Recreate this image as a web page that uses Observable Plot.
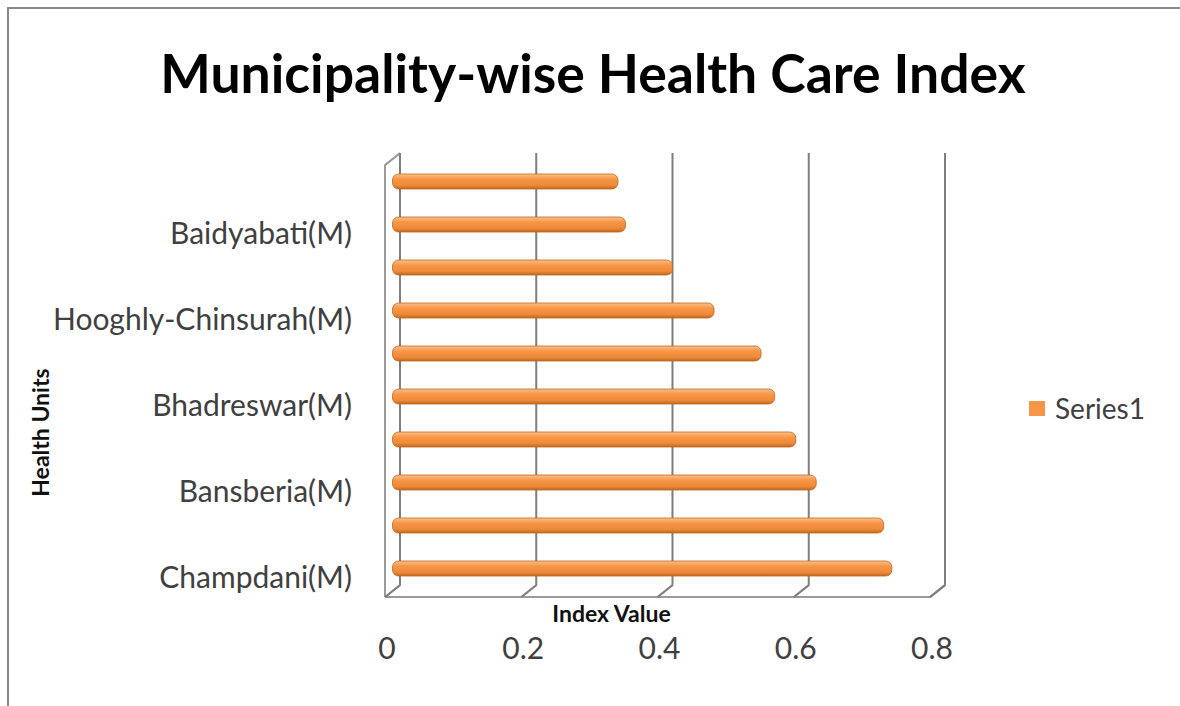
<!DOCTYPE html>
<html><head><meta charset="utf-8">
<script src="https://cdn.jsdelivr.net/npm/d3@7"></script>
<script src="https://cdn.jsdelivr.net/npm/@observablehq/plot@0.6"></script>
<style>
body{margin:0;background:#fff;}
#page{position:relative;width:1180px;height:706px;overflow:hidden;background:#fff;}
#border{position:absolute;left:7px;top:7px;width:1200px;height:720px;border-left:2px solid #8a8a8a;border-top:2px solid #8a8a8a;}
#title{position:absolute;left:0;top:37px;width:1186px;text-align:center;font-family:Lato,"Open Sans",sans-serif;font-weight:bold;font-size:53.5px;line-height:70px;color:#000;white-space:nowrap;}
#chart{position:absolute;left:0;top:140px;}
#legend{position:absolute;left:1029px;top:390px;font-family:Lato,"Open Sans",sans-serif;font-size:28px;line-height:36px;color:#404040;display:flex;align-items:center;}
#legend .sw{width:16px;height:15px;background:#F79646;margin-right:10px;}
</style></head>
<body>
<div id="page">
  <div id="border"></div>
  <div id="title">Municipality-wise Health Care Index</div>
  <div id="chart"></div>
  <div id="legend"><div class="sw"></div><span>Series1</span></div>
</div>
<script>
// Categories in data order (first = bottom of chart, as in the spreadsheet)
const units = ["Champdani(M)", "Unit 2", "Bansberia(M)", "Unit 4", "Bhadreswar(M)",
               "Unit 6", "Hooghly-Chinsurah(M)", "Unit 8", "Baidyabati(M)", "Unit 10"];
// Only these names are printed on the axis
const shownLabels = ["Champdani(M)", "Bansberia(M)", "Bhadreswar(M)", "Hooghly-Chinsurah(M)", "Baidyabati(M)"];
const series1 = [0.733, 0.721, 0.622, 0.592, 0.561, 0.541, 0.472, 0.411, 0.342, 0.331];
const xTicks = [0, 0.2, 0.4, 0.6, 0.8];
const xTickLabels = ["0", "0.2", "0.4", "0.6", "0.8"];

const data = units.map((u, i) => ({unit: u, value: series1[i]}));

// 3D-style walls and gridlines, drawn from the x scale
function frame3d(index, scales, values, dims) {
  const x = scales.x;
  const dX = 7.5, dY = 6;
  const top = dims.marginTop - dY;
  const bot = dims.height - dims.marginBottom;
  const backBot = bot - dY, frontBot = bot + dY;
  const x0 = x(xTicks[0]), xN = x(xTicks[xTicks.length - 1]);
  const g = d3.create("svg:g").attr("fill", "none").attr("stroke-linejoin", "round");
  g.append("path").attr("stroke", "#9a9a9a").attr("stroke-width", 2)
    .attr("d", `M${x0 - dX},${frontBot}V${top + 2 * dY}L${x0 + dX},${top}`);
  g.append("path").attr("stroke", "#9a9a9a").attr("stroke-width", 2)
    .attr("d", `M${x0 - dX},${frontBot}H${xN - dX}L${xN + dX},${backBot}`);
  for (const t of xTicks) {
    const xb = x(t) + dX, xf = x(t) - dX;
    g.append("path").attr("stroke", "#7f7f7f").attr("stroke-width", 2)
      .attr("d", `M${xb},${top}V${backBot}L${xf},${frontBot}`);
  }
  return g.node();
}

const plot = Plot.plot({
  width: 1180,
  height: 566,
  marginLeft: 392.5,
  marginRight: 242.5,
  marginTop: 19.1,
  marginBottom: 114.9,
  style: {fontFamily: "Lato, 'Open Sans', sans-serif", color: "#404040", background: "transparent"},
  x: {domain: [0, 0.8], axis: null},
  y: {domain: units.slice().reverse(), paddingInner: 0.65, paddingOuter: 0.325, axis: null},
  marks: [
    frame3d,
    Plot.barX(data, {x: "value", y: "unit", fill: "url(#barGrad)", stroke: "#c0681f", strokeWidth: 0.8, rx: 6}),
    Plot.axisY({tickSize: 0, tickPadding: 41, fontSize: 30, dy: 9, label: null,
      tickFormat: d => shownLabels.includes(d) ? d : ""}),
    Plot.axisX({ticks: xTicks, tickSize: 0, tickPadding: 46, fontSize: 30, dx: -6, label: null,
      tickFormat: d => xTickLabels[xTicks.indexOf(d)]}),
    Plot.text(["Index Value"], {text: d => d, frameAnchor: "bottom", textAnchor: "middle", lineAnchor: "middle",
      dx: -54, dy: 23, fontSize: 23, fontWeight: "bold", fill: "#111"}),
    Plot.text(["Health Units"], {text: d => d, frameAnchor: "left", textAnchor: "middle", lineAnchor: "middle",
      rotate: -90, dx: -351, dy: 57, fontSize: 23, fontWeight: "bold", fill: "#111"})
  ]
});

const defs = d3.create("svg:defs");
const grad = defs.append("linearGradient").attr("id", "barGrad")
  .attr("x1", 0).attr("y1", 0).attr("x2", 0).attr("y2", 1);
grad.append("stop").attr("offset", "0%").attr("stop-color", "#fbc08c");
grad.append("stop").attr("offset", "35%").attr("stop-color", "#f79646");
grad.append("stop").attr("offset", "75%").attr("stop-color", "#ee8a3a");
grad.append("stop").attr("offset", "100%").attr("stop-color", "#c0681f");
plot.insertBefore(defs.node(), plot.firstChild);

document.getElementById("chart").appendChild(plot);
</script>
</body></html>
